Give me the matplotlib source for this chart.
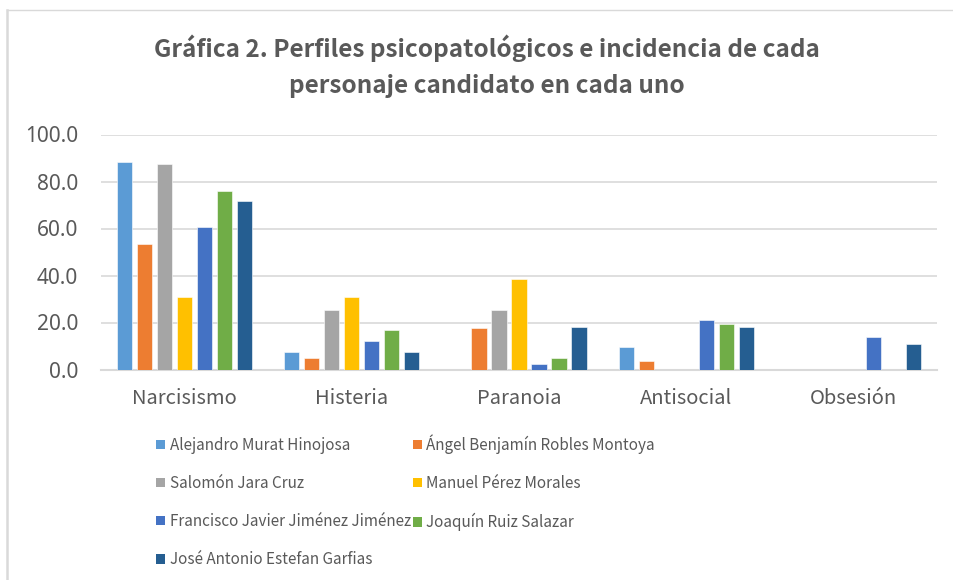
import matplotlib
matplotlib.use("Agg")
import matplotlib.pyplot as plt
import numpy as np
from matplotlib.patches import Patch
from matplotlib.lines import Line2D

categories = ["Narcisismo", "Histeria", "Paranoia", "Antisocial", "Obsesión"]
series_names = [
    "Alejandro Murat Hinojosa",
    "Ángel Benjamín Robles Montoya",
    "Salomón Jara Cruz",
    "Manuel Pérez Morales",
    "Francisco Javier Jiménez Jiménez",
    "Joaquín Ruiz Salazar",
    "José Antonio Estefan Garfias",
]
alejandro = [88.3, 7.3, 0.0, 9.4, 0.0]
angel = [53.5, 4.8, 17.5, 3.6, 0.0]
salomon = [87.3, 25.2, 25.2, 0.0, 0.0]
manuel = [30.9, 30.9, 38.5, 0.0, 0.0]
francisco = [60.6, 12.0, 2.5, 21.1, 14.0]
joaquin = [76.1, 16.8, 5.0, 19.4, 0.0]
jose = [71.6, 7.3, 18.1, 18.1, 10.9]
series_values = [alejandro, angel, salomon, manuel, francisco, joaquin, jose]
colors = ["#5B9BD5", "#ED7D31", "#A5A5A5", "#FFC000", "#4472C4", "#70AD47", "#255E91"]
yticks = [0, 20, 40, 60, 80, 100]

txt = "#595959"
cjk = ["Noto Sans CJK JP", "DejaVu Sans"]

fig = plt.figure(figsize=(9.54, 5.8), dpi=100)
ax = fig.add_axes([101/954, 1-369.5/580, (937-101)/954, (369.5-134.5)/580])

x = np.arange(len(categories))
slot = 0.1196
width = 0.092
for i, (vals, c) in enumerate(zip(series_values, colors)):
    ax.bar(x + (i-3)*slot, vals, width=width, color=c, edgecolor="white", linewidth=0.4, zorder=3)

ax.set_xlim(-0.5, len(categories)-0.5)
ax.set_ylim(0, 100)
ax.set_yticks(yticks)
ax.set_yticklabels([f"{v:.1f}" for v in yticks], fontsize=15, color=txt, family="Noto Sans")
ax.set_xticks(x)
ax.set_xticklabels(categories, fontsize=14.5, color=txt, family=cjk)
ax.tick_params(axis="both", length=0)
ax.tick_params(axis="y", pad=16.5)
ax.tick_params(axis="x", pad=13)
ax.grid(axis="y", color="#D9D9D9", linewidth=1.2, zorder=0)
for s in ["top", "right", "left"]:
    ax.spines[s].set_visible(False)
ax.spines["bottom"].set_color("#D9D9D9")
ax.spines["bottom"].set_linewidth(1.5)

tx = 487/954
fig.text(tx, 1-48/580, "Gráfica 2. Perfiles psicopatológicos e incidencia de cada",
         ha="center", va="center", fontsize=17.5, fontweight="bold", color=txt, family=cjk)
fig.text(tx, 1-86/580, "personaje candidato en cada uno",
         ha="center", va="center", fontsize=17.5, fontweight="bold", color=txt, family=cjk)

order = [0, 2, 4, 6, 1, 3, 5]
handles = [Patch(facecolor=colors[i], edgecolor="none") for i in order]
labels = [series_names[i] for i in order]
leg = fig.legend(handles, labels, loc="upper left", bbox_to_anchor=(156/954, 1-434/580),
                 ncol=2, frameon=False, handlelength=0.6, handleheight=0.6,
                 handletextpad=0.3, columnspacing=0.1, labelspacing=1.38,
                 prop={"family": cjk, "size": 11}, borderaxespad=0, borderpad=0)
for t in leg.get_texts():
    t.set_color(txt)

# chart frame lines (left and top)
fig.add_artist(Line2D([7/954, 7/954], [0, 1-9.5/580], color="#D9D9D9", linewidth=1.8, transform=fig.transFigure))
fig.add_artist(Line2D([7/954, 1], [1-9.5/580, 1-9.5/580], color="#D9D9D9", linewidth=1.0, transform=fig.transFigure))

fig.savefig("out.png", dpi=100)
